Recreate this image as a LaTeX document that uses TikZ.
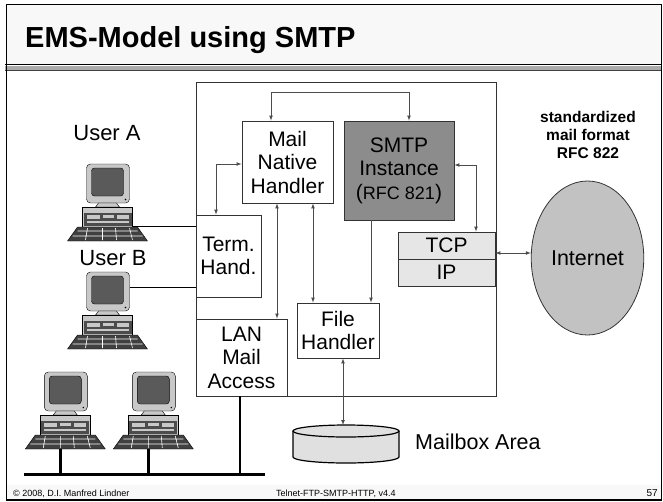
\documentclass[tikz,border=0pt]{standalone}
\usepackage{fontspec}
\setmainfont{Liberation Sans}
\usepackage{tikz}
\usetikzlibrary{arrows}
\usetikzlibrary{shapes.geometric}
\definecolor{bandgray}{HTML}{F8F8F8}
\definecolor{smtpgray}{HTML}{8C8C8C}
\definecolor{netgray}{HTML}{C2C2C2}
\definecolor{layergray}{HTML}{E6E6E6}
\definecolor{diskgray}{HTML}{E0E0E0}
\definecolor{monlight}{HTML}{C8C8C8}
\definecolor{screendark}{HTML}{5A5A5A}

\tikzset{
  pc/.pic={
    % monitor
    \draw[fill=monlight,rounded corners=4pt] (-21,0) rectangle (22,39);
    \draw[fill=screendark,rounded corners=3pt] (-16,4) rectangle (16,32);
    \fill (18,35.5) circle (0.8);
    \draw[fill=monlight] (-9,39) -- (9,39) -- (12,43) -- (-12,43) -- cycle;
    % base
    \draw[fill=monlight] (-25,43) rectangle (25,63);
    \fill[black!70] (-24,49) rectangle (24,62);
    \fill[monlight] (-21,51) rectangle (-8,55);
    \fill[monlight] (-5,51) rectangle (6,54);
    \fill[monlight] (9,51) rectangle (21,55);
    \fill[monlight] (-21,57) rectangle (21,58.5);
    % keyboard
    \draw[fill=black!75] (-30,63) -- (30,63) -- (40,77) -- (-40,77) -- cycle;
    \draw[white,line width=0.6pt] (-30,67) -- (30,67) (-35,72) -- (35,72)
      (-20,64) -- (-22,76) (-5,64) -- (-5,76) (8,64) -- (9,76) (22,64) -- (25,76);
    \coordinate (-rt) at (25,62);
    \coordinate (-mon) at (22,15);
    \coordinate (-kb) at (-5,77);
  }
}

\begin{document}
\begin{tikzpicture}[x=1pt,y=-1pt,>=latex,
  box/.style={draw=black!80,line width=0.9pt,fill=white,align=center,inner sep=0pt,
    font=\fontsize{21}{23.5}\selectfont},
  link/.style={draw=black!70,line width=0.7pt},
  wire/.style={draw=black,line width=0.8pt},
  lanwire/.style={draw=black,line width=2.6pt}]
\useasboundingbox (0,0) rectangle (663,501);

% slide frame
\fill[bandgray] (6.5,5) rectangle (661.5,64);
\fill[bandgray] (6.5,485) rectangle (661.5,500);
\draw[line width=1.2pt] (5,64.5) -- (661.5,64.5);
\fill[gray!65] (5,66) rectangle (661.5,71);
\draw[black!75,line width=0.8pt] (5,70.8) -- (661.5,70.8);
\draw[line width=1.2pt] (6.5,4.5) rectangle (661.5,500);

\node (title) [anchor=base west,inner sep=0pt,font=\fontsize{29}{34}\selectfont\bfseries]
  at (25,47) {EMS-Model using SMTP};

% main block
\node (ems) [draw=black!80,line width=0.9pt,minimum width=300pt,minimum height=314pt] at (346,239) {};
\node (mnh) [box,minimum width=91pt,minimum height=82pt] at (287.5,162) {Mail\\Native\\Handler};
\node (smtp) [box,fill=smtpgray,minimum width=110pt,minimum height=99pt] at (399,170.5)
  {SMTP\\Instance\\({\fontsize{18}{20}\selectfont RFC 821})};
\node (term) [box,minimum width=65pt,minimum height=82pt] at (228.5,256) {Term.\\Hand.};
\node (lan) [box,minimum width=91pt,minimum height=77pt] at (241.5,357.5) {LAN\\Mail\\Access};
\node (file) [box,minimum width=82pt,minimum height=55pt] at (338,330.5) {File\\Handler};
\node (tcp) [box,fill=layergray,minimum width=97pt,minimum height=27pt] at (446.5,245.5) {TCP};
\node (ip) [box,fill=layergray,minimum width=97pt,minimum height=27pt] at (446.5,272.5) {IP};

% outside
\node (inet) [ellipse,draw=black!80,line width=0.8pt,fill=netgray,minimum width=101pt,minimum height=154pt,
  font=\fontsize{21.5}{24}\selectfont] at (587.5,258) {Internet};
\node (fmt) [align=center,font=\fontsize{15.5}{18}\selectfont\bfseries] at (588,135)
  {standardized\\mail format\\RFC 822};
\node (usrA) [font=\fontsize{22}{24}\selectfont] at (107,133) {User A};
\node (usrB) [font=\fontsize{22}{24}\selectfont] at (113,258) {User B};

% mailbox
\fill[diskgray] (293,431) -- (293,457) arc[start angle=180,end angle=0,x radius=53,y radius=6]
  -- (399,431) arc[start angle=0,end angle=-180,x radius=53,y radius=6] -- cycle;
\draw[line width=1.2pt] (293,431) -- (293,457) arc[start angle=180,end angle=0,x radius=53,y radius=6] -- (399,431);
\draw[line width=1.2pt] (346,431) ellipse[x radius=53,y radius=6];
\coordinate (mbox) at (343,425);
\node (mlbl) [anchor=west,inner sep=0pt,font=\fontsize{21.5}{24}\selectfont] at (415,442) {Mailbox Area};

% computers
\pic (pcA) at (107.5,164) {pc};
\pic (pcB) at (107.5,272) {pc};
\pic (pcC) at (65.3,372) {pc};
\pic (pcD) at (153.3,372) {pc};

% connectors
\draw[link,<->] ([xshift=-16.5pt]mnh.north) -- ++(0,-28) -| ([xshift=10pt]smtp.north);
\draw[link,<->] ([xshift=-12.5pt]term.north) |- ([yshift=-2pt]mnh.west);
\coordinate (mnhL) at ([xshift=-10.5pt]mnh.south);
\coordinate (mnhR) at ([xshift=25.5pt]mnh.south);
\coordinate (smtpB) at ([xshift=-28pt]smtp.south);
\coordinate (smtpR) at ([yshift=5.5pt]smtp.east);
\coordinate (tcpR) at ([yshift=-7.5pt]tcp.east);
\coordinate (fileB) at ([xshift=5pt]file.south);
\draw[link,<->] (mnhL) -- (mnhL |- lan.north);
\draw[link,<->] (mnhR) -- (mnhR |- file.north);
\draw[link,->] (smtpB) -- (smtpB |- file.north);
\draw[link,<->] (smtpR) -| ([xshift=29.5pt]tcp.north);
\draw[link,<->] (tcpR) -- (tcpR -| inet.west);
\draw[link,<->] (fileB) -- (mbox);

\draw[wire] (pcA-rt) -- (pcA-rt -| term.west);
\draw[wire] (pcB-mon) -- (pcB-mon -| term.west);

% LAN
\coordinate (busL) at (24,474);
\coordinate (busR) at (265,474);
\coordinate (lanD) at ([xshift=-1.5pt]lan.south);
\draw[lanwire,line width=3pt] (busL) -- (busR);
\draw[lanwire] (lanD) -- (lanD |- busL);
\draw[lanwire] (pcC-kb) -- (pcC-kb |- busL);
\draw[lanwire] (pcD-kb) -- (pcD-kb |- busL);

% footer
\node (copy) [anchor=base west,inner sep=0pt,font=\fontsize{9}{10}\selectfont] at (13,496) {© 2008, D.I. Manfred Lindner};
\node (ver) [anchor=base west,inner sep=0pt,font=\fontsize{9}{10}\selectfont] at (276,496) {Telnet-FTP-SMTP-HTTP, v4.4};
\node (page) [anchor=base east,inner sep=0pt,font=\fontsize{10}{11}\selectfont] at (658,496) {57};
\end{tikzpicture}
\end{document}
